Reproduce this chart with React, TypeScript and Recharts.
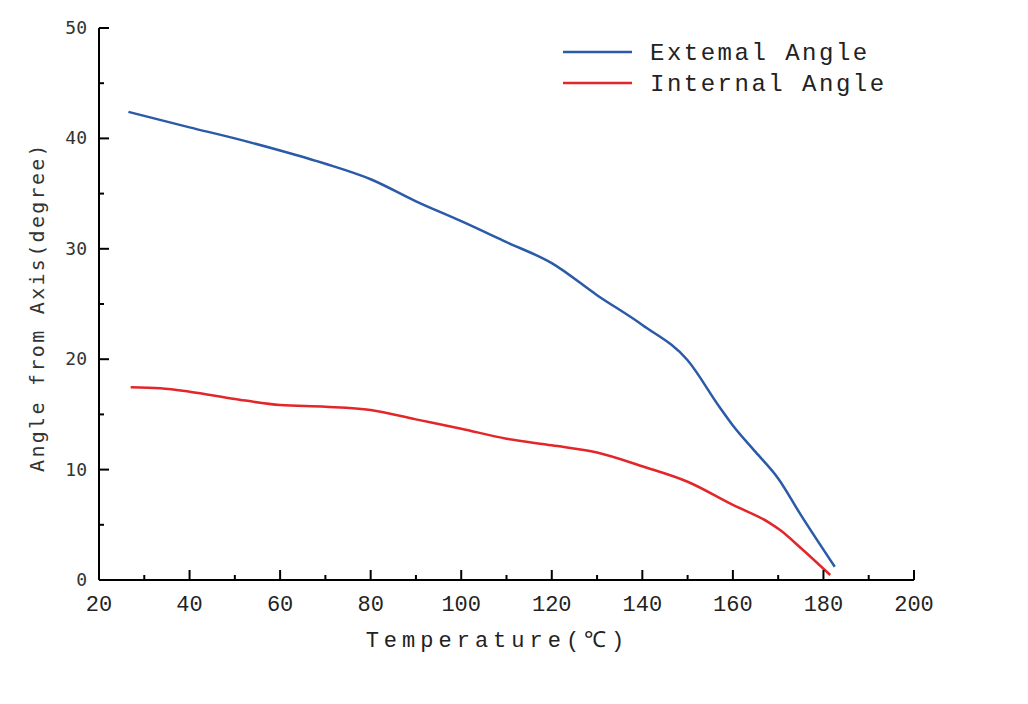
import { LineChart, Line, XAxis, YAxis, Legend } from "recharts";

// Extemal Angle (blue)
const extTemp = [26.5, 40, 50, 60, 70, 80, 90, 100, 110, 120, 130, 140, 150, 157, 160, 165, 170, 175, 182.5];
const extAngle = [42.4, 41.0, 40.0, 38.9, 37.7, 36.3, 34.3, 32.5, 30.6, 28.7, 25.8, 23.1, 19.9, 15.7, 14.0, 11.6, 9.2, 5.9, 1.2];

// Internal Angle (red)
const intTemp = [27, 33.5, 40, 50, 60, 70, 80, 90, 100, 110, 120, 130, 140, 150, 160, 168, 170.5, 175, 181.5];
const intAngle = [17.45, 17.36, 17.06, 16.4, 15.85, 15.7, 15.4, 14.55, 13.7, 12.8, 12.2, 11.55, 10.3, 8.9, 6.8, 5.2, 4.5, 2.9, 0.45];

const xTicks = [20, 30, 40, 50, 60, 70, 80, 90, 100, 110, 120, 130, 140, 150, 160, 170, 180, 190, 200];
const yTicks = [0, 5, 10, 15, 20, 25, 30, 35, 40, 45, 50];

const extData = extTemp.map((t, i) => ({ t, v: extAngle[i] }));
const intData = intTemp.map((t, i) => ({ t, v: intAngle[i] }));

const BLUE = "#2b5aa8";
const RED = "#e2262a";
const MONO = "'Liberation Mono', monospace";
const SANS_MONO = "'DejaVu Sans Mono', monospace";

const XTick = (props: any) => {
  const { x, y, payload } = props;
  const major = payload.value % 20 === 0;
  return (
    <g>
      <line x1={x} y1={y} x2={x} y2={y - (major ? 10 : 5)} stroke="#000" strokeWidth={2} />
      {major && (
        <text x={x} y={y + 31} textAnchor="middle" fontFamily={MONO} fontSize={22} fill="#222">
          {payload.value}
        </text>
      )}
    </g>
  );
};

const YTick = (props: any) => {
  const { x, y, payload } = props;
  const major = payload.value % 10 === 0;
  return (
    <g>
      <line x1={x} y1={y} x2={x + (major ? 10 : 5)} y2={y} stroke="#000" strokeWidth={2} />
      {major && (
        <text x={x - 12} y={y + 6} textAnchor="end" fontFamily={SANS_MONO} fontSize={18} fill="#333">
          {payload.value}
        </text>
      )}
    </g>
  );
};

const LegendBox = ({ payload }: any) => (
  <svg width={360} height={70}>
    {(payload || []).map((p: any, i: number) => (
      <g key={p.value}>
        <line x1={0} x2={69} y1={12 + 31 * i} y2={12 + 31 * i} stroke={p.color} strokeWidth={2.5} />
        <text
          x={87}
          y={20 + 31 * i}
          fontFamily={MONO}
          fontSize={24}
          letterSpacing={2.5}
          fill="#222"
        >
          {p.value}
        </text>
      </g>
    ))}
  </svg>
);

export default function App() {
  return (
    <LineChart width={1020} height={690} margin={{ top: 20, right: 114, bottom: 0, left: 0 }}>
      <XAxis
        type="number"
        dataKey="t"
        domain={[20, 200]}
        ticks={xTicks}
        interval={0}
        tickSize={0}
        tickMargin={0}
        tick={<XTick />}
        height={118}
        stroke="#000"
        strokeWidth={2}
        label={{
          content: ({ viewBox }: any) => (
            <text
              x={viewBox.x + viewBox.width / 2 - 9}
              y={viewBox.y + 67}
              textAnchor="middle"
              fontFamily={MONO}
              fontSize={22}
              letterSpacing={5}
              fill="#222"
            >
              Temperature(℃)
            </text>
          ),
        }}
      />
      <YAxis
        type="number"
        domain={[0, 50]}
        ticks={yTicks}
        interval={0}
        tickSize={0}
        tickMargin={0}
        tick={<YTick />}
        width={91}
        stroke="#000"
        strokeWidth={2}
        label={{
          content: ({ viewBox }: any) => {
            const cx = viewBox.x + 29;
            const cy = viewBox.y + viewBox.height / 2 + 3;
            return (
              <text
                x={cx}
                y={cy}
                transform={`rotate(-90, ${cx}, ${cy})`}
                textAnchor="middle"
                dominantBaseline="central"
                fontFamily={SANS_MONO}
                fontSize={20}
                letterSpacing={2.3}
                fill="#333"
              >
                Angle from Axis(degree)
              </text>
            );
          },
        }}
      />
      <Legend
        layout="vertical"
        align="center"
        verticalAlign="middle"
        wrapperStyle={{ left: 555, top: 32, width: 360 }}
        content={<LegendBox />}
      />
      <Line
        data={extData}
        dataKey="v"
        name="Extemal Angle"
        type="monotone"
        stroke={BLUE}
        strokeWidth={2.5}
        dot={false}
        isAnimationActive={false}
      />
      <Line
        data={intData}
        dataKey="v"
        name="Internal Angle"
        type="monotone"
        stroke={RED}
        strokeWidth={2.5}
        dot={false}
        isAnimationActive={false}
      />
    </LineChart>
  );
}
